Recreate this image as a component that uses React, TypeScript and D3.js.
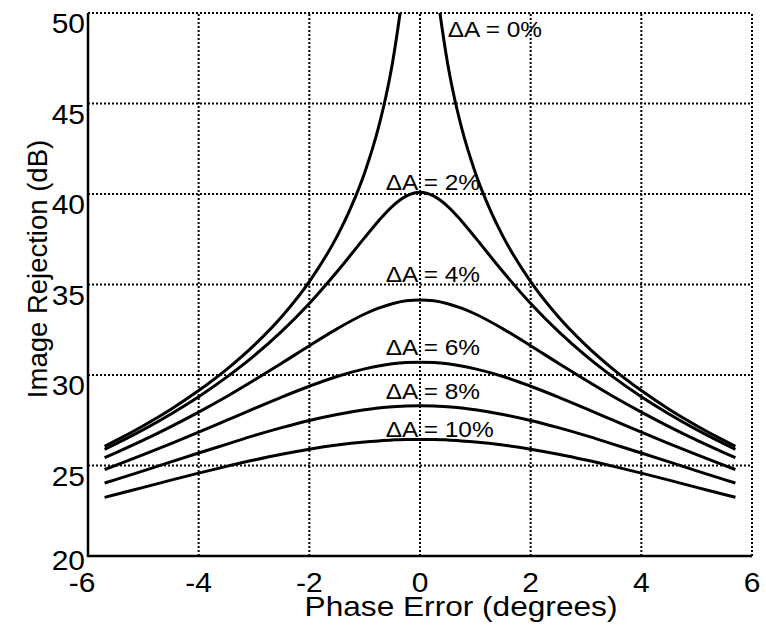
import React from 'react'
import * as d3 from 'd3'

// phase error (degrees) shared by the dA = 2..10 % curves
const phaseDeg = [-5.7, -5.5, -5, -4.5, -4, -3.5, -3, -2.5, -2, -1.5, -1, -0.75, -0.5, -0.25, 0,
  0.25, 0.5, 0.75, 1, 1.5, 2, 2.5, 3, 3.5, 4, 4.5, 5, 5.5, 5.7]

// dA = 0 % has its own x points, null = off the top of the plot
const phaseDeg0 = [-5.7, -5.5, -5, -4.5, -4, -3.5, -3, -2.5, -2, -1.5, -1.25, -1, -0.75, -0.6, -0.5, -0.4, -0.36, 0,
  0.36, 0.4, 0.5, 0.6, 0.75, 1, 1.25, 1.5, 2, 2.5, 3, 3.5, 4, 4.5, 5, 5.5, 5.7]
const rej0 = [26.06, 26.37, 27.2, 28.11, 29.14, 30.3, 31.64, 33.22, 35.16, 37.66, 39.25, 41.18, 43.68, 45.62, 47.2, 49.14, 50.0, null,
  50.0, 49.14, 47.2, 45.62, 43.68, 41.18, 39.25, 37.66, 35.16, 33.22, 31.64, 30.3, 29.14, 28.11, 27.2, 26.37, 26.06]

const rej2 = [25.89, 26.19, 26.98, 27.85, 28.8, 29.87, 31.06, 32.41, 33.95, 35.7, 37.59, 38.51, 39.32, 39.88, 40.09,
  39.88, 39.32, 38.51, 37.59, 35.7, 33.95, 32.41, 31.06, 29.87, 28.8, 27.85, 26.98, 26.19, 25.89]
const rej4 = [25.43, 25.7, 26.4, 27.15, 27.95, 28.8, 29.71, 30.65, 31.62, 32.55, 33.37, 33.69, 33.94, 34.1, 34.15,
  34.1, 33.94, 33.69, 33.37, 32.55, 31.62, 30.65, 29.71, 28.8, 27.95, 27.15, 26.4, 25.7, 25.43]
const rej6 = [24.78, 25.01, 25.6, 26.21, 26.84, 27.49, 28.14, 28.78, 29.38, 29.92, 30.34, 30.5, 30.62, 30.69, 30.71,
  30.69, 30.62, 30.5, 30.34, 29.92, 29.38, 28.78, 28.14, 27.49, 26.84, 26.21, 25.6, 25.01, 24.78]
const rej8 = [24.03, 24.22, 24.7, 25.2, 25.69, 26.17, 26.65, 27.09, 27.49, 27.82, 28.08, 28.18, 28.24, 28.29, 28.3,
  28.29, 28.24, 28.18, 28.08, 27.82, 27.49, 27.09, 26.65, 26.17, 25.69, 25.2, 24.7, 24.22, 24.03]
const rej10 = [23.24, 23.4, 23.79, 24.19, 24.58, 24.95, 25.3, 25.62, 25.9, 26.13, 26.3, 26.36, 26.41, 26.44, 26.44,
  26.44, 26.41, 26.36, 26.3, 26.13, 25.9, 25.62, 25.3, 24.95, 24.58, 24.19, 23.79, 23.4, 23.24]

const curveLabels = ['\u0394A = 0%', '\u0394A = 2%', '\u0394A = 4%', '\u0394A = 6%', '\u0394A = 8%', '\u0394A = 10%']

const xTicks = [-6, -4, -2, 0, 2, 4, 6]
const yTicks = [20, 25, 30, 35, 40, 45, 50]

const W = 766
const H = 625
const font = 'Liberation Sans, Arial, Helvetica, sans-serif'
const stretch = 1.11 // the reference text is a bit wide

function Txt(props: { x: number, y: number, size: number, anchor?: string, children: React.ReactNode }) {
  return (
    <text transform={`translate(${props.x},${props.y}) scale(${stretch},1)`}
      fontSize={props.size} textAnchor={props.anchor || 'start'}>{props.children}</text>
  )
}

export default function App() {
  const x = d3.scaleLinear().domain([-6, 6]).range([88, 752])
  const y = d3.scaleLinear().domain([20, 50]).range([556, 13])

  const line = d3.line<[number, number | null]>()
    .defined(d => d[1] !== null)
    .x(d => x(d[0]))
    .y(d => y(d[1] as number))
    .curve(d3.curveMonotoneX)

  const series = [
    { xs: phaseDeg0, ys: rej0 },
    { xs: phaseDeg, ys: rej2 },
    { xs: phaseDeg, ys: rej4 },
    { xs: phaseDeg, ys: rej6 },
    { xs: phaseDeg, ys: rej8 },
    { xs: phaseDeg, ys: rej10 },
  ]

  // where each label sits (x start in degrees, baseline in dB)
  const labelPos: [number, number][] = [[0.5, 48.65], [-0.62, 40.2], [-0.62, 35.15], [-0.62, 31.1], [-0.62, 28.65], [-0.62, 26.6]]

  return (
    <svg width={W} height={H} style={{ position: 'absolute', left: 0, top: 0, background: '#fff' }}>
      {/* grid */}
      <g stroke="#000" strokeWidth={2} strokeDasharray="2,2">
        {xTicks.slice(1).map(t => (
          <line key={'gx' + t} x1={x(t)} x2={x(t)} y1={y(20)} y2={y(50)} />
        ))}
        {yTicks.slice(1).map(t => (
          <line key={'gy' + t} x1={x(-6)} x2={x(6)} y1={y(t)} y2={y(t)} />
        ))}
      </g>

      {/* curves */}
      <g fill="none" stroke="#000" strokeWidth={3}>
        {series.map((s, i) => (
          <path key={i} d={line(s.xs.map((v, j) => [v, s.ys[j]] as [number, number | null])) || ''} />
        ))}
      </g>

      {/* axes */}
      <line x1={x(-6)} x2={x(-6)} y1={y(50)} y2={y(20) + 1} stroke="#000" strokeWidth={2.5} />
      <line x1={x(-6) - 1} x2={x(6)} y1={y(20)} y2={y(20)} stroke="#000" strokeWidth={2.5} />

      <g fontFamily={font} fill="#000">
        {yTicks.map(t => (
          <Txt key={'ty' + t} x={x(-6) - 3} y={y(t) + (t === 20 ? 14 : 20)} size={27} anchor="end">{t}</Txt>
        ))}
        {xTicks.map(t => (
          <Txt key={'tx' + t} x={x(t) - (t === -6 ? 6 : 0)} y={592} size={27} anchor="middle">{t}</Txt>
        ))}
        <Txt x={461} y={616} size={28.5} anchor="middle">Phase Error (degrees)</Txt>
        <text transform="translate(47,269) rotate(-90)" textAnchor="middle" fontSize={27.5}>Image Rejection (dB)</text>
      </g>

      <g fontFamily={font} fill="#000">
        {curveLabels.map((l, i) => (
          <Txt key={l} x={x(labelPos[i][0])} y={y(labelPos[i][1])} size={22}>{l}</Txt>
        ))}
      </g>
    </svg>
  )
}
